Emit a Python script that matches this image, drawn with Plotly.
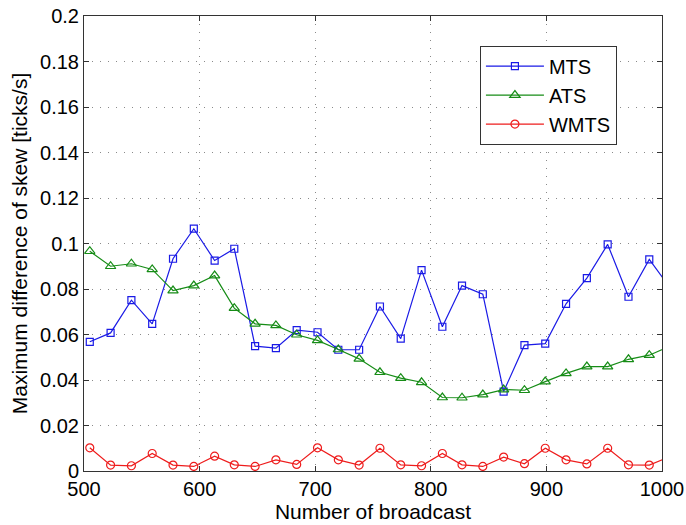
import plotly.graph_objects as go

broadcast = [505, 523, 541, 559, 577, 595, 613, 630, 648, 666, 684, 702, 720, 738,
             756, 774, 792, 810, 827, 845, 863, 881, 899, 917, 935, 953, 971, 989, 1007]

mts = [0.0568, 0.0607, 0.0751, 0.0647, 0.0933, 0.1065, 0.0925, 0.0977, 0.0549, 0.0540,
       0.0619, 0.0610, 0.0533, 0.0533, 0.0723, 0.0582, 0.0883, 0.0634, 0.0815, 0.0777,
       0.0349, 0.0553, 0.0560, 0.0735, 0.0848, 0.0996, 0.0766, 0.0930, 0.0806]

ats = [0.0966, 0.0900, 0.0911, 0.0886, 0.0793, 0.0815, 0.0859, 0.0716, 0.0647, 0.0640,
       0.0599, 0.0574, 0.0534, 0.0493, 0.0434, 0.0408, 0.0390, 0.0323, 0.0322, 0.0336,
       0.0358, 0.0355, 0.0393, 0.0429, 0.0459, 0.0459, 0.0491, 0.0509, 0.0549]

wmts = [0.0102, 0.0026, 0.0023, 0.0077, 0.0026, 0.0020, 0.0065, 0.0027, 0.0020, 0.0049,
        0.0029, 0.0102, 0.0049, 0.0026, 0.0100, 0.0027, 0.0023, 0.0077, 0.0027, 0.0020,
        0.0061, 0.0032, 0.0100, 0.0049, 0.0031, 0.0100, 0.0027, 0.0026, 0.0064]

y_ticks = [0, 0.02, 0.04, 0.06, 0.08, 0.1, 0.12, 0.14, 0.16, 0.18, 0.2]
y_labels = ["0", "0.02", "0.04", "0.06", "0.08", "0.1", "0.12", "0.14", "0.16", "0.18", "0.2"]
x_ticks = [500, 600, 700, 800, 900, 1000]

fig = go.Figure()
fig.add_trace(go.Scatter(x=broadcast, y=mts, name="MTS", mode="lines+markers",
                         line=dict(color="#1a1ae6", width=1.2),
                         marker=dict(symbol="square-open", size=7, color="#1a1ae6",
                                     line=dict(width=1.2))))
fig.add_trace(go.Scatter(x=broadcast, y=ats, name="ATS", mode="lines+markers",
                         line=dict(color="#168c16", width=1.2),
                         marker=dict(symbol="triangle-up-open", size=9, color="#168c16",
                                     line=dict(width=1.2))))
fig.add_trace(go.Scatter(x=broadcast, y=wmts, name="WMTS", mode="lines+markers",
                         line=dict(color="#ee1c1c", width=1.2),
                         marker=dict(symbol="circle-open", size=8, color="#ee1c1c",
                                     line=dict(width=1.2))))

axis_common = dict(showline=True, linecolor="#333", linewidth=1, mirror="allticks",
                   ticks="inside", ticklen=5, tickcolor="#333",
                   showgrid=True, gridcolor="#8a8a8a", griddash="1px,7px", gridwidth=1,
                   zeroline=False, automargin=False,
                   tickfont=dict(size=20, color="#000"))

fig.update_xaxes(range=[500, 1000], tickvals=x_ticks,
                 title=dict(text="Number of broadcast", font=dict(size=21, color="#000"), standoff=2),
                 **axis_common)
fig.update_yaxes(range=[0, 0.2], tickvals=y_ticks, ticktext=y_labels,
                 title=dict(text="Maximum difference of skew [ticks/s]", font=dict(size=21, color="#000"), standoff=6),
                 **axis_common)

fig.update_layout(
    width=686, height=525,
    margin=dict(l=84, r=24, t=16, b=54),
    paper_bgcolor="white", plot_bgcolor="white",
    font=dict(family="Liberation Sans, Arial, sans-serif", color="#000"),
    showlegend=True,
    legend=dict(x=0.685, y=0.935, xanchor="left", yanchor="top",
                bgcolor="white", bordercolor="#333", borderwidth=1,
                font=dict(size=20), itemwidth=58, tracegroupgap=0),
)

fig.write_html("out.html")
